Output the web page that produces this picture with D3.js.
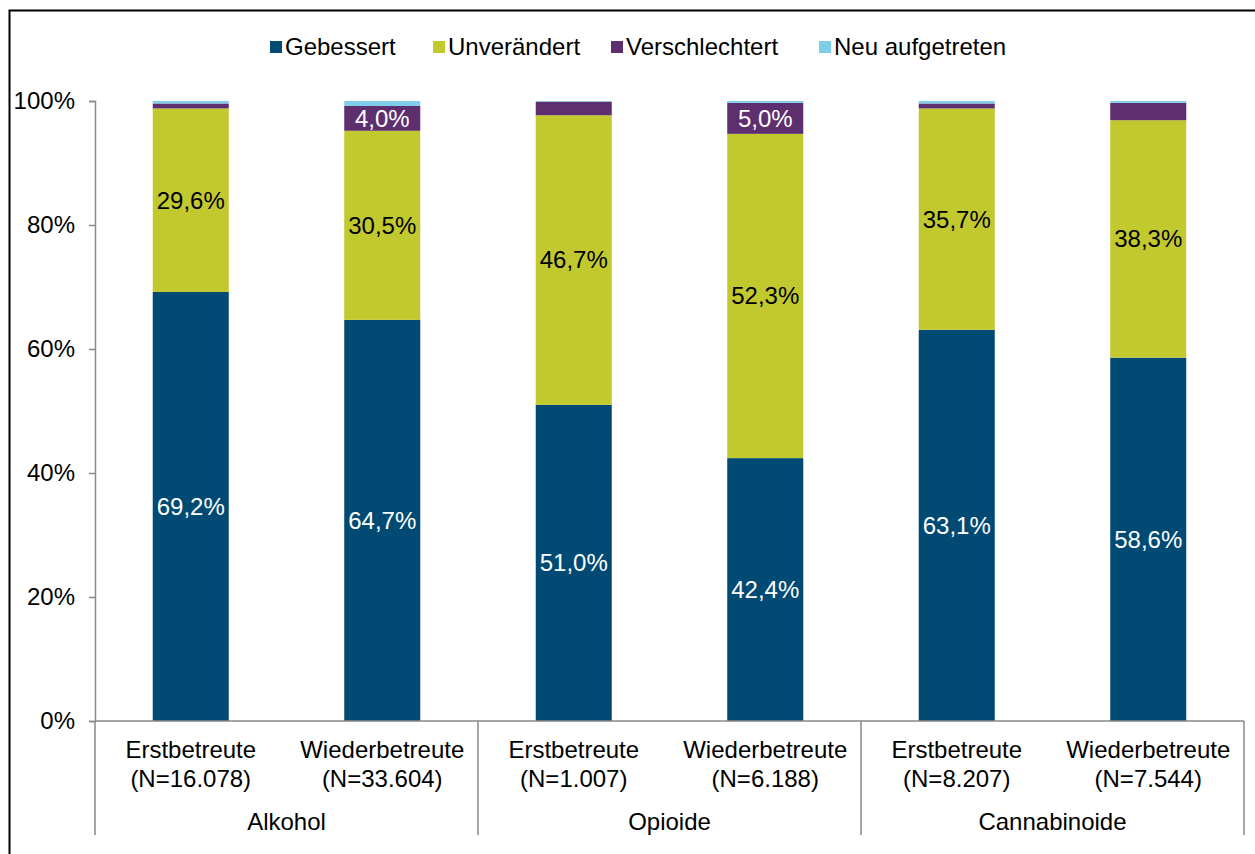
<!DOCTYPE html>
<html><head><meta charset="utf-8">
<script src="https://cdn.jsdelivr.net/npm/d3@7"></script>
<style>body{margin:0;background:#fff;} svg{display:block;font-family:"Liberation Sans",Arial,sans-serif;}</style>
</head><body>
<svg id="chart" width="1255" height="854"></svg>
<script>
const groups = ["Alkohol","Opioide","Cannabinoide"];
const subLabels = ["Erstbetreute","Wiederbetreute","Erstbetreute","Wiederbetreute","Erstbetreute","Wiederbetreute"];
const nLabels = ["(N=16.078)","(N=33.604)","(N=1.007)","(N=6.188)","(N=8.207)","(N=7.544)"];
const seriesNames = ["Gebessert","Unverändert","Verschlechtert","Neu aufgetreten"];
const gebessert = [69.2, 64.7, 51.0, 42.4, 63.1, 58.6];
const unveraendert = [29.6, 30.5, 46.7, 52.3, 35.7, 38.3];
const verschlechtert = [0.8, 4.0, 2.2, 5.0, 0.8, 2.8];
const neu = [0.4, 0.8, 0.1, 0.3, 0.4, 0.3];
const yTicks = [0,20,40,60,80,100];
const colors = ["#004a74","#c2c92f","#5e2f6e","#7ecde9"];
const labelColors = ["#fff","#000","#fff","#000"];

(function(){
const FS = 24;
const svg = d3.select("#chart");
const pL = 95, pR = 1244, pT = 101, pB = 721;
const idx = d3.range(6);
const x = d3.scaleBand().domain(idx).range([pL,pR]).paddingInner(0.603).paddingOuter(0.3015);
const y = d3.scaleLinear().domain([0,100]).range([pB,pT]);

// outer border
svg.append("rect").attr("x",9.5).attr("y",10.5).attr("width",1300).attr("height",900)
  .attr("fill","none").attr("stroke","#000").attr("stroke-width",2);

const rows = idx.map(i => ({i, v:[gebessert[i],unveraendert[i],verschlechtert[i],neu[i]]}));
const stack = d3.stack().keys([0,1,2,3]).value((d,k)=>d.v[k]);
const stacked = stack(rows);

stacked.forEach((layer,k) => {
  const g = svg.append("g");
  g.selectAll("rect").data(layer).join("rect")
    .attr("x", d => x(d.data.i))
    .attr("width", x.bandwidth())
    .attr("y", d => y(d[1]))
    .attr("height", d => y(d[0]) - y(d[1]))
    .attr("fill", colors[k]);
  g.selectAll("text").data(layer.filter(d => (d[1]-d[0]) >= 3.5)).join("text")
    .attr("x", d => x(d.data.i) + x.bandwidth()/2)
    .attr("y", d => y((d[0]+d[1])/2))
    .attr("dy","0.35em")
    .attr("text-anchor","middle")
    .attr("font-size",FS)
    .attr("fill", labelColors[k])
    .text(d => d3.format(".1f")(d[1]-d[0]).replace(".",",") + "%");
});

// y axis
const yAxis = d3.axisLeft(y).tickValues(yTicks).tickFormat(d => d + "%").tickSize(6).tickPadding(14);
const ya = svg.append("g").attr("transform",`translate(${pL},0)`).call(yAxis);
ya.select(".domain").attr("stroke","#898989").attr("stroke-width",1.5);
ya.selectAll(".tick line").attr("stroke","#898989").attr("stroke-width",1.5);
ya.selectAll(".tick text").attr("font-size",FS).attr("fill","#000").attr("font-family","Liberation Sans, Arial, sans-serif");

// x axis line
svg.append("line").attr("x1",pL).attr("x2",pR).attr("y1",pB).attr("y2",pB)
  .attr("stroke","#898989").attr("stroke-width",1.5);
// group separators
const groupEdges = [pL, x(2) - x.step()*x.paddingInner()/2, x(4) - x.step()*x.paddingInner()/2, pR];
groupEdges.forEach(gx => {
  svg.append("line").attr("x1",gx).attr("x2",gx).attr("y1",pB).attr("y2",835)
    .attr("stroke","#898989").attr("stroke-width",1.5);
});
// sub labels
idx.forEach(i => {
  const cx = x(i) + x.bandwidth()/2;
  svg.append("text").attr("x",cx).attr("y",758).attr("text-anchor","middle").attr("font-size",FS).text(subLabels[i]);
  svg.append("text").attr("x",cx).attr("y",787).attr("text-anchor","middle").attr("font-size",FS).text(nLabels[i]);
});
groups.forEach((gname,gi) => {
  const cx = (groupEdges[gi] + groupEdges[gi+1]) / 2;
  svg.append("text").attr("x",cx).attr("y",830).attr("text-anchor","middle").attr("font-size",FS).text(gname);
});

// legend
const legendX = [270, 433, 611, 819];
seriesNames.forEach((s,k) => {
  svg.append("rect").attr("x",legendX[k]).attr("y",41).attr("width",12).attr("height",12).attr("fill",colors[k]);
  svg.append("text").attr("x",legendX[k]+15).attr("y",47).attr("dy","0.35em").attr("font-size",FS).text(s);
});
})();
</script>
</body></html>
